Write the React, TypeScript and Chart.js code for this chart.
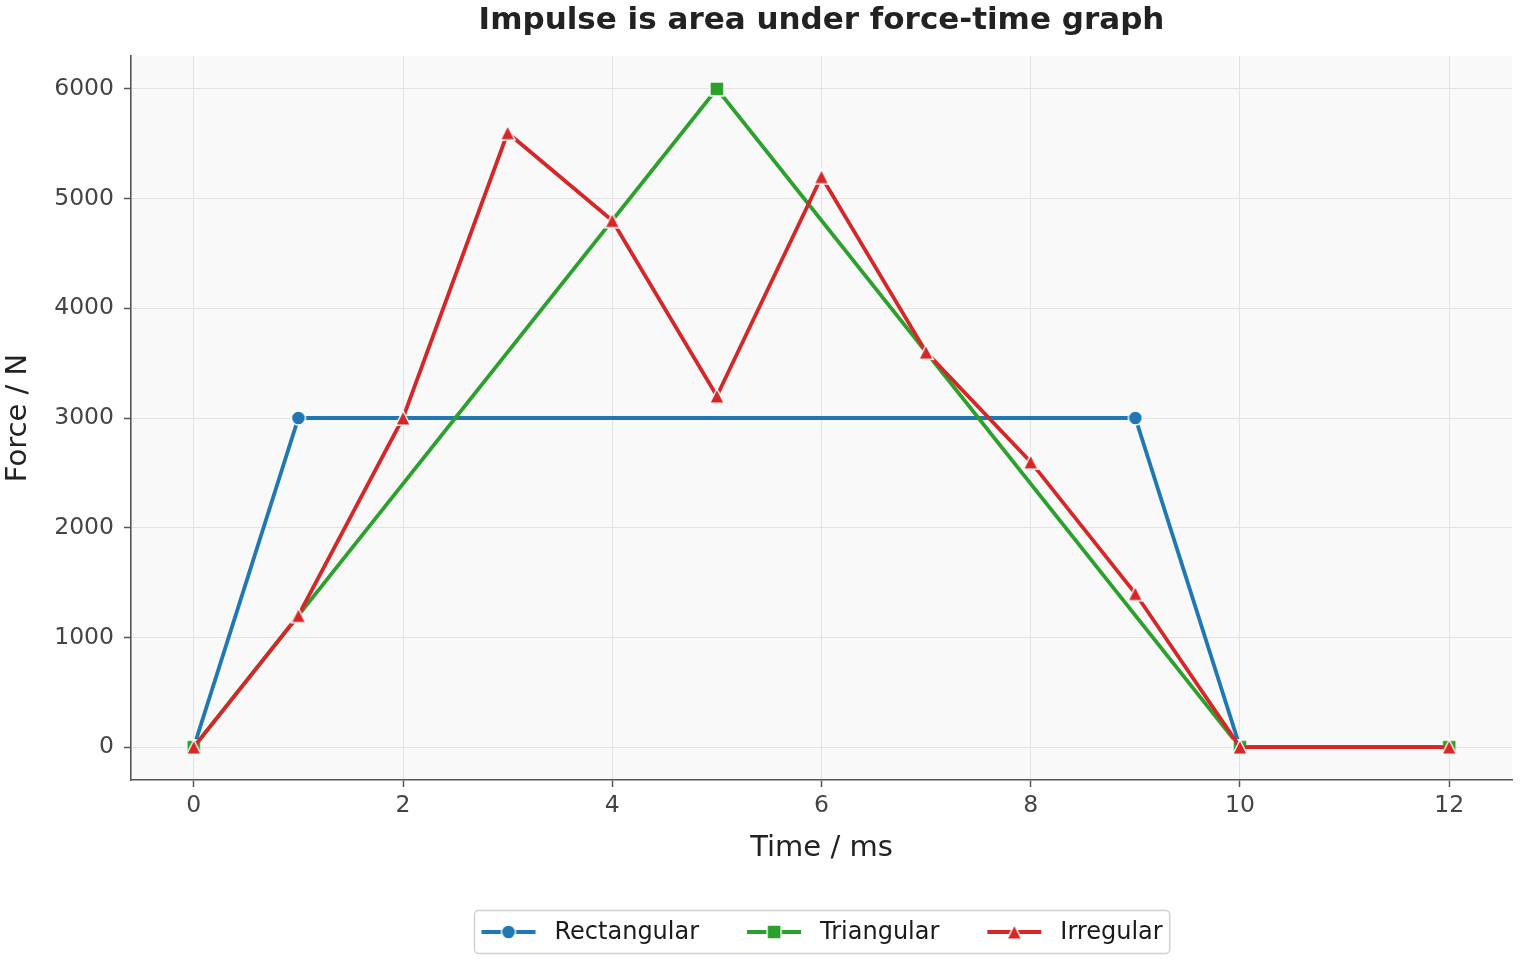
import React, { useEffect, useRef } from "react";
import { Chart, registerables } from "chart.js";

Chart.register(...registerables);

// Force–time profiles (time in ms, force in N)
const rectTimes = [0, 1, 9, 10, 12];
const rectForce = [0, 3000, 3000, 0, 0];

const triTimes = [0, 5, 10, 12];
const triForce = [0, 6000, 0, 0];

const irrTimes = [0, 1, 2, 3, 4, 5, 6, 7, 8, 9, 10, 12];
const irrForce = [0, 1200, 3000, 5600, 4800, 3200, 5200, 3600, 2600, 1400, 0, 0];

const seriesNames = ["Rectangular", "Triangular", "Irregular"];
const xTicks = [0, 2, 4, 6, 8, 10, 12];
const yTicks = [0, 1000, 2000, 3000, 4000, 5000, 6000];

const titleText = "Impulse is area under force-time graph";
const xTitle = "Time / ms";
const yTitle = "Force / N";

const FONT = "'DejaVu Sans', sans-serif";
const BLUE = "#1f77b4";
const GREEN = "#2ca02c";
const RED = "#d62728";

type Shape = "circle" | "square" | "triangle";

function makeMarker(shape: Shape, color: string): HTMLCanvasElement {
  const c = document.createElement("canvas");
  c.width = 22;
  c.height = 22;
  const ctx = c.getContext("2d")!;
  const cx = 11;
  const cy = 11;
  ctx.beginPath();
  if (shape === "circle") {
    ctx.arc(cx, cy, 7.0, 0, Math.PI * 2);
  } else if (shape === "square") {
    ctx.rect(cx - 7, cy - 7, 14, 14);
  } else {
    ctx.moveTo(cx, cy - 7.3);
    ctx.lineTo(cx - 7.3, cy + 7.3);
    ctx.lineTo(cx + 7.3, cy + 7.3);
    ctx.closePath();
  }
  ctx.fillStyle = color;
  ctx.fill();
  ctx.lineWidth = 1.4;
  ctx.strokeStyle = "#ffffff";
  ctx.lineJoin = "miter";
  ctx.stroke();
  return c;
}

const toPoints = (xs: number[], ys: number[]) => xs.map((x, i) => ({ x, y: ys[i] }));

const plotBackground = {
  id: "plotBackground",
  beforeDraw(chart: any) {
    const { ctx, chartArea } = chart;
    ctx.save();
    ctx.fillStyle = "#f9f9f9";
    ctx.fillRect(chartArea.left, chartArea.top, chartArea.right - chartArea.left, chartArea.bottom - chartArea.top);
    ctx.restore();
  },
};

function makeDecorations(markers: HTMLCanvasElement[], colors: string[]) {
  return {
    id: "decorations",
    afterDraw(chart: any) {
      const { ctx, chartArea } = chart;
      ctx.save();
      // Title centred over the plot area
      ctx.font = `bold 31px ${FONT}`;
      ctx.fillStyle = "#222222";
      ctx.textAlign = "center";
      ctx.textBaseline = "middle";
      ctx.fillText(titleText, (chartArea.left + chartArea.right) / 2, 21);

      // Legend box below the x axis
      ctx.font = `24px ${FONT}`;
      const handle = 54;
      const textGap = 19;
      const itemGap = 48;
      const widths = seriesNames.map((n) => ctx.measureText(n).width);
      const inner = widths.reduce((s, w) => s + handle + textGap + w, 0) + itemGap * (seriesNames.length - 1);
      const padX = 7;
      const boxW = inner + padX * 2;
      const boxH = 43;
      const cx = (chartArea.left + chartArea.right) / 2;
      const boxX = Math.round(cx - boxW / 2) + 0.5;
      const boxY = 910.5;
      ctx.beginPath();
      ctx.roundRect(boxX, boxY, boxW, boxH, 4);
      ctx.fillStyle = "rgba(255,255,255,0.8)";
      ctx.fill();
      ctx.lineWidth = 1.5;
      ctx.strokeStyle = "#d0d0d0";
      ctx.stroke();

      const midY = boxY + boxH / 2;
      let x = boxX + padX;
      seriesNames.forEach((name, i) => {
        ctx.beginPath();
        ctx.moveTo(x, midY);
        ctx.lineTo(x + handle, midY);
        ctx.lineWidth = 3.8;
        ctx.strokeStyle = colors[i];
        ctx.stroke();
        const m = markers[i];
        ctx.drawImage(m, x + handle / 2 - m.width / 2, midY - m.height / 2);
        ctx.fillStyle = "#1a1a1a";
        ctx.textAlign = "left";
        ctx.textBaseline = "middle";
        ctx.fillText(name, x + handle + textGap, midY + 1);
        x += handle + textGap + widths[i] + itemGap;
      });
      ctx.restore();
    },
  };
}

export default function App() {
  const canvasRef = useRef<HTMLCanvasElement | null>(null);

  useEffect(() => {
    if (!canvasRef.current) return;
    Chart.defaults.font.family = FONT;

    const circle = makeMarker("circle", BLUE);
    const square = makeMarker("square", GREEN);
    const triangle = makeMarker("triangle", RED);

    const lineStyle = { borderWidth: 3.8, pointRadius: 8, pointHoverRadius: 8, tension: 0, fill: false };

    const chart = new Chart(canvasRef.current, {
      type: "line",
      data: {
        datasets: [
          {
            label: seriesNames[0],
            data: toPoints(rectTimes, rectForce),
            borderColor: BLUE,
            backgroundColor: BLUE,
            pointStyle: circle,
            order: 2,
            ...lineStyle,
          },
          {
            label: seriesNames[1],
            data: toPoints(triTimes, triForce),
            borderColor: GREEN,
            backgroundColor: GREEN,
            pointStyle: square,
            order: 1,
            ...lineStyle,
          },
          {
            label: seriesNames[2],
            data: toPoints(irrTimes, irrForce),
            borderColor: RED,
            backgroundColor: RED,
            pointStyle: triangle,
            order: 0,
            ...lineStyle,
          },
        ],
      },
      options: {
        animation: false,
        responsive: false,
        devicePixelRatio: 1,
        events: [],
        layout: { autoPadding: false, padding: { top: 56, right: 8, bottom: 94, left: 0 } },
        plugins: {
          legend: { display: false },
          title: { display: false },
          tooltip: { enabled: false },
        },
        scales: {
          x: {
            type: "linear",
            min: -0.6,
            max: 12.6,
            afterBuildTicks: (scale: any) => {
              scale.ticks = xTicks.map((v) => ({ value: v }));
            },
            afterFit: (scale: any) => {
              scale.height = 86;
              scale.paddingLeft = 0;
              scale.paddingRight = 0;
            },
            ticks: {
              font: { size: 23.5 },
              color: "#444444",
              padding: 5,
              maxRotation: 0,
              callback: (v: any) => String(v),
            },
            grid: {
              color: "#e3e3e3",
              lineWidth: 1,
              tickColor: "#555555",
              tickLength: 7,
              tickWidth: 1.5,
            },
            border: { display: true, color: "#555555", width: 1.6 },
            title: {
              display: true,
              text: xTitle,
              font: { size: 29 },
              color: "#222222",
              padding: { top: 12, bottom: 0 },
            },
          },
          y: {
            type: "linear",
            min: -300,
            max: 6300,
            afterBuildTicks: (scale: any) => {
              scale.ticks = yTicks.map((v) => ({ value: v }));
            },
            afterFit: (scale: any) => {
              scale.width = 131;
              scale.paddingTop = 0;
              scale.paddingBottom = 0;
            },
            ticks: {
              font: { size: 23.5 },
              color: "#444444",
              padding: 10,
              callback: (v: any) => String(v),
            },
            grid: {
              color: "#e3e3e3",
              lineWidth: 1,
              tickColor: "#555555",
              tickLength: 7,
              tickWidth: 1.5,
            },
            border: { display: true, color: "#555555", width: 1.6 },
            title: {
              display: true,
              text: yTitle,
              font: { size: 29 },
              color: "#222222",
              padding: { top: 1, bottom: 0 },
            },
          },
        },
      },
      plugins: [plotBackground, makeDecorations([circle, square, triangle], [BLUE, GREEN, RED])],
    });

    return () => chart.destroy();
  }, []);

  return (
    <div style={{ position: "absolute", left: 0, top: 0, width: 1520, height: 960, background: "#ffffff" }}>
      <canvas ref={canvasRef} width={1520} height={960} />
    </div>
  );
}
